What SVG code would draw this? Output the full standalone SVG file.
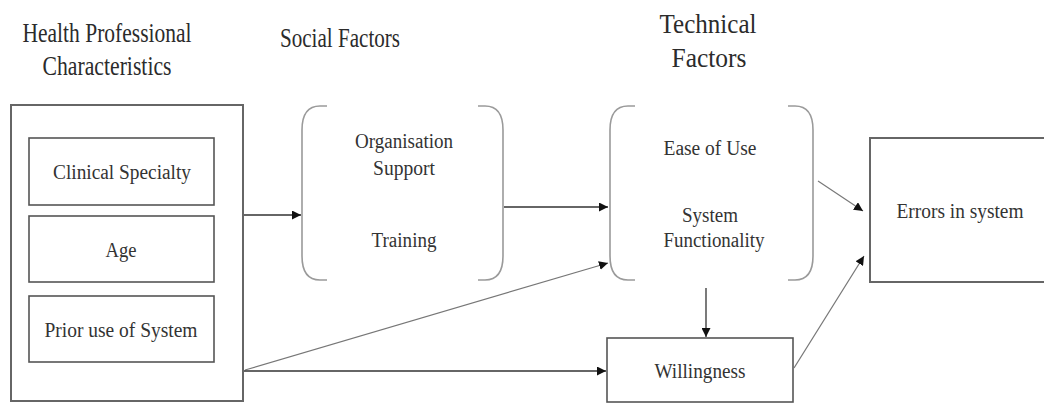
<svg xmlns="http://www.w3.org/2000/svg" width="1044" height="403" viewBox="0 0 1044 403">
  <style>
    .title { font-family: "Liberation Serif", "Times New Roman", serif; font-size: 28px; fill: #2b2b2b; text-anchor: middle; }
    .label { font-family: "Liberation Serif", "Times New Roman", serif; font-size: 20px; fill: #333; text-anchor: middle; }
    .box { fill: none; stroke: #555; stroke-width: 1.6; }
    .outer { fill: none; stroke: #666; stroke-width: 2; }
    .bracket { fill: none; stroke: #9a9a9a; stroke-width: 1.6; }
    .conn { fill: none; stroke: #333; stroke-width: 1.3; marker-end: url(#arrow); }
    .conn-light { fill: none; stroke: #777; stroke-width: 1.2; marker-end: url(#arrow); }
  </style>
  <defs>
    <marker id="arrow" viewBox="0 0 10 10" refX="10" refY="5" markerWidth="9" markerHeight="9" markerUnits="userSpaceOnUse" orient="auto">
      <path d="M0,0 L10,5 L0,10 Z" fill="#111"/>
    </marker>
  </defs>
  <rect width="1044" height="403" fill="#fff"/>

  <!-- column headings -->
  <g id="headings">
    <text class="title" x="107" y="42" textLength="169" lengthAdjust="spacingAndGlyphs">Health Professional</text>
    <text class="title" x="107" y="75" textLength="129" lengthAdjust="spacingAndGlyphs">Characteristics</text>
    <text class="title" x="340" y="47" textLength="120" lengthAdjust="spacingAndGlyphs">Social Factors</text>
    <text class="title" x="708" y="33" textLength="97" lengthAdjust="spacingAndGlyphs">Technical</text>
    <text class="title" x="709" y="67" textLength="75" lengthAdjust="spacingAndGlyphs">Factors</text>
  </g>

  <!-- health professional characteristics -->
  <g id="characteristics">
    <rect class="outer" x="11" y="105" width="232" height="296"/>
    <g id="clinical-specialty">
      <rect class="box" x="29" y="138" width="185" height="67"/>
      <text class="label" x="122" y="179" textLength="138" lengthAdjust="spacingAndGlyphs">Clinical Specialty</text>
    </g>
    <g id="age">
      <rect class="box" x="29" y="216" width="185" height="66"/>
      <text class="label" x="121" y="257" textLength="31" lengthAdjust="spacingAndGlyphs">Age</text>
    </g>
    <g id="prior-use">
      <rect class="box" x="29" y="296" width="185" height="66"/>
      <text class="label" x="121" y="337" textLength="153" lengthAdjust="spacingAndGlyphs">Prior use of System</text>
    </g>
  </g>

  <!-- social factors -->
  <g id="social-factors">
    <path class="bracket" d="M327,106 H320 Q302,106 302,130 V256 Q302,280 320,280 H327"/>
    <path class="bracket" d="M478,106 H485 Q503,106 503,130 V256 Q503,280 485,280 H478"/>
    <text class="label" x="404" y="148" textLength="98" lengthAdjust="spacingAndGlyphs">Organisation</text>
    <text class="label" x="404" y="175" textLength="62" lengthAdjust="spacingAndGlyphs">Support</text>
    <text class="label" x="404" y="247" textLength="65" lengthAdjust="spacingAndGlyphs">Training</text>
  </g>

  <!-- technical factors -->
  <g id="technical-factors">
    <path class="bracket" d="M635,106 H628 Q610,106 610,130 V256 Q610,280 628,280 H635"/>
    <path class="bracket" d="M788,106 H795 Q813,106 813,130 V256 Q813,280 795,280 H788"/>
    <text class="label" x="710" y="155" textLength="93" lengthAdjust="spacingAndGlyphs">Ease of Use</text>
    <text class="label" x="710" y="222" textLength="56" lengthAdjust="spacingAndGlyphs">System</text>
    <text class="label" x="714" y="247" textLength="101" lengthAdjust="spacingAndGlyphs">Functionality</text>
  </g>

  <!-- outcome -->
  <g id="errors-in-system">
    <path class="outer" d="M1050,138 H870 V282 H1050"/>
    <text class="label" x="960" y="218" textLength="127" lengthAdjust="spacingAndGlyphs">Errors in system</text>
  </g>

  <g id="willingness">
    <rect class="box" x="607" y="338" width="186" height="64"/>
    <text class="label" x="700" y="378" textLength="91" lengthAdjust="spacingAndGlyphs">Willingness</text>
  </g>

  <!-- connectors -->
  <g id="connectors">
    <line class="conn" x1="244" y1="215" x2="301" y2="215"/>
    <line class="conn" x1="504" y1="207" x2="608" y2="207"/>
    <line class="conn-light" x1="245" y1="370" x2="608" y2="263"/>
    <line class="conn" x1="244" y1="371" x2="606" y2="371"/>
    <line class="conn" x1="706" y1="288" x2="706" y2="337"/>
    <line class="conn-light" x1="818" y1="181" x2="863" y2="211"/>
    <line class="conn-light" x1="794" y1="368" x2="864" y2="256"/>
  </g>
</svg>
